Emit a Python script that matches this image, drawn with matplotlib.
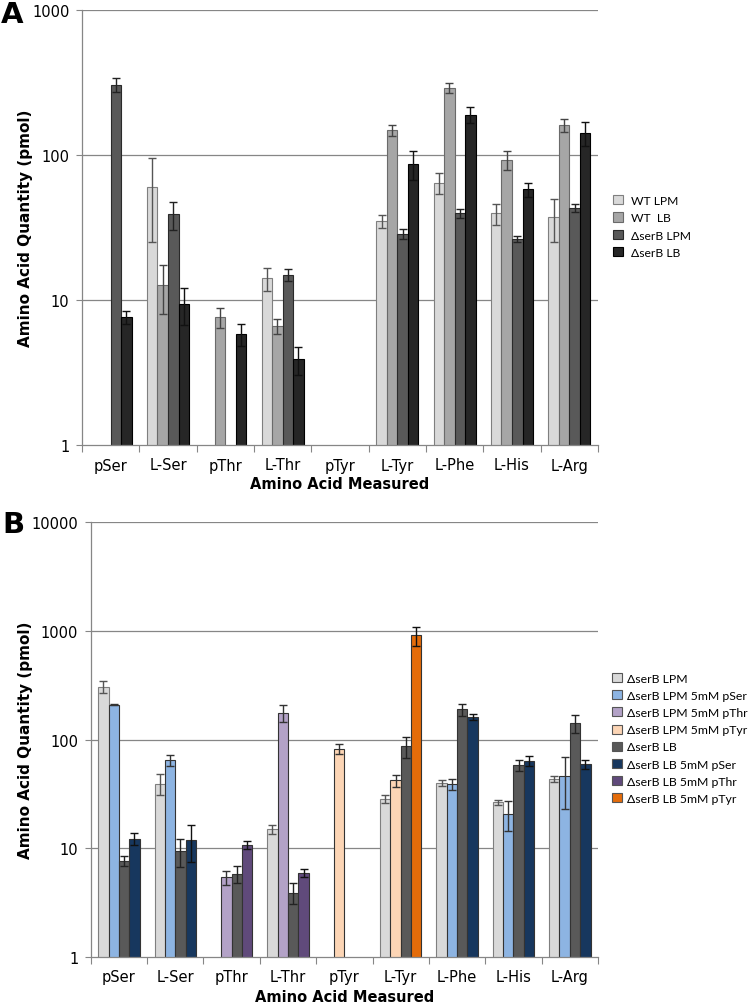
import numpy as np
import matplotlib
matplotlib.use("Agg")
import matplotlib.pyplot as plt
from matplotlib.patches import Patch
from matplotlib.ticker import FixedLocator, FixedFormatter, NullLocator

nan = np.nan
categories = ['pSer', 'L-Ser', 'pThr', 'L-Thr', 'pTyr', 'L-Tyr', 'L-Phe', 'L-His', 'L-Arg']

# ---- Panel A ----
a_labels = ['WT LPM', 'WT  LB', '\u0394serB LPM', '\u0394serB LB']
wt_lpm = [nan, 60.0, nan, 14.1, nan, 35.2, 64.8, 39.6, 37.6]
wt_lpm_err = [nan, 35.0, nan, 2.6, nan, 3.6, 10.7, 6.8, 12.4]
wt_lb = [nan, 12.8, 7.6, 6.6, nan, 149.0, 291.0, 93.0, 162.0]
wt_lb_err = [nan, 4.8, 1.2, 0.8, nan, 13.0, 24.0, 13.7, 17.0]
serb_lpm = [307.0, 39.2, nan, 15.0, nan, 28.6, 39.6, 26.4, 43.5]
serb_lpm_err = [36.0, 8.5, nan, 1.5, nan, 2.4, 2.6, 1.3, 2.7]
serb_lb = [7.6, 9.4, 5.8, 3.9, nan, 87.0, 190.0, 58.0, 142.0]
serb_lb_err = [0.8, 2.7, 1.0, 0.86, nan, 19.5, 24.5, 6.7, 27.0]

# ---- Panel B ----
b_labels = ['\u0394serB LPM', '\u0394serB LPM 5mM pSer', '\u0394serB LPM 5mM pThr',
            '\u0394serB LPM 5mM pTyr', '\u0394serB LB', '\u0394serB LB 5mM pSer',
            '\u0394serB LB 5mM pThr', '\u0394serB LB 5mM pTyr']
supplement = ['pSer', 'pSer', 'pThr', 'pThr', 'pTyr', 'pTyr', 'pSer', 'pSer', 'pSer']
lpm_supp = [209.0, 65.0, 5.4, 175.0, 82.0, 42.0, 38.9, 20.8, 46.1]
lpm_supp_err = [2.0, 7.8, 0.8, 31.0, 8.5, 5.4, 4.4, 6.3, 23.0]
lb_supp = [12.2, 11.9, 10.8, 5.96, nan, 911.0, 161.0, 63.8, 59.5]
lb_supp_err = [1.5, 4.4, 0.9, 0.5, nan, 178.0, 11.0, 7.0, 5.6]

a_colors = ['#d9d9d9', '#a6a6a6', '#595959', '#262626']
a_edges = ['#7f7f7f', '#6a6a6a', '#2a2a2a', '#000000']
a_ecol = ['#555555', '#444444', '#222222', '#111111']

lpm_col = '#d9d9d9'
lb_col = '#595959'
lpm_supp_col = {'pSer': '#8db4e2', 'pThr': '#b3a2c7', 'pTyr': '#fcd5b5'}
lb_supp_col = {'pSer': '#17375e', 'pThr': '#604a7b', 'pTyr': '#e46c0a'}
b_colors = [lpm_col, lpm_supp_col['pSer'], lpm_supp_col['pThr'], lpm_supp_col['pTyr'],
            lb_col, lb_supp_col['pSer'], lb_supp_col['pThr'], lb_supp_col['pTyr']]

grid_col = '#868686'
TICKFONT = 10.5
LABFONT = 10.5

fig = plt.figure(figsize=(7.49, 10.03), dpi=100)
W, H = 749.0, 1003.0


def ax_from_px(x0, x1, ytop, ybot):
    return fig.add_axes([x0 / W, 1 - ybot / H, (x1 - x0) / W, (ybot - ytop) / H])


def style_axes(ax, ymax):
    ax.set_yscale('log')
    ax.set_ylim(1, ymax)
    ax.set_xlim(-0.5, len(categories) - 0.5)
    decades = [10 ** k for k in range(int(round(np.log10(ymax))) + 1)]
    ax.yaxis.set_major_locator(FixedLocator(decades))
    ax.yaxis.set_major_formatter(FixedFormatter([str(d) for d in decades]))
    ax.yaxis.set_minor_locator(NullLocator())
    for d in decades[1:]:
        ax.axhline(d, color=grid_col, lw=0.9, zorder=0)
    ax.set_xticks(range(len(categories)))
    ax.set_xticklabels(categories)
    ax.set_xticks(np.arange(-0.5, len(categories)), minor=True)
    ax.tick_params(axis='x', which='major', length=0, pad=9, labelsize=TICKFONT)
    ax.tick_params(axis='x', which='minor', length=5, width=0.8, color=grid_col, direction='out')
    ax.tick_params(axis='y', which='major', length=4, width=0.8, color=grid_col,
                   labelsize=TICKFONT, pad=5)
    for s in ['top', 'right']:
        ax.spines[s].set_visible(False)
    for s in ['left', 'bottom']:
        ax.spines[s].set_color(grid_col)
        ax.spines[s].set_linewidth(0.9)
    ax.set_xlabel('Amino Acid Measured', fontsize=LABFONT, fontweight='bold')
    ax.set_ylabel('Amino Acid Quantity (pmol)', fontsize=11, fontweight='bold')


bw = 0.184
offsets = (np.arange(4) - 1.5) * bw
x = np.arange(len(categories))

# Panel A
axA = ax_from_px(82, 598, 11.3, 446)
style_axes(axA, 1000)
a_vals = [wt_lpm, wt_lb, serb_lpm, serb_lb]
a_errs = [wt_lpm_err, wt_lb_err, serb_lpm_err, serb_lb_err]
for i in range(4):
    axA.bar(x + offsets[i], a_vals[i], width=bw, color=a_colors[i], edgecolor=a_edges[i],
            linewidth=0.8, zorder=2)
    axA.errorbar(x + offsets[i], a_vals[i], yerr=a_errs[i], fmt='none', ecolor=a_ecol[i],
                 elinewidth=1.0, capsize=2.6, capthick=1.0, zorder=3)
axA.xaxis.set_label_coords(0.5, -0.072)
axA.yaxis.set_label_coords(-0.095, 0.5)
hA = [Patch(facecolor=a_colors[i], edgecolor=a_edges[i], linewidth=0.8) for i in range(4)]
fig.legend(hA, a_labels, loc='upper left', bbox_to_anchor=(613 / W, 1 - 196 / H),
           frameon=False, prop={'family': 'Lato', 'size': 8.7}, handlelength=0.8,
           handleheight=0.8, handletextpad=0.65, labelspacing=0.52, borderpad=0,
           borderaxespad=0)

# Panel B
axB = ax_from_px(90.7, 598, 523.3, 957.8)
style_axes(axB, 10000)
b_vals = [serb_lpm, lpm_supp, serb_lb, lb_supp]
b_errs = [serb_lpm_err, lpm_supp_err, serb_lb_err, lb_supp_err]
b_slot_colors = [
    [lpm_col] * len(categories),
    [lpm_supp_col[s] for s in supplement],
    [lb_col] * len(categories),
    [lb_supp_col[s] for s in supplement],
]
b_ecol = ['#555555', '#333333', '#222222', '#111111']
for i in range(4):
    edges = ['#7f7f7f' if i == 0 else '#333333'] * len(categories)
    axB.bar(x + offsets[i], b_vals[i], width=bw, color=b_slot_colors[i], edgecolor=edges,
            linewidth=0.8, zorder=2)
    axB.errorbar(x + offsets[i], b_vals[i], yerr=b_errs[i], fmt='none', ecolor=b_ecol[i],
                 elinewidth=1.0, capsize=2.6, capthick=1.0, zorder=3)
axB.xaxis.set_label_coords(0.5, -0.074)
axB.yaxis.set_label_coords(-0.113, 0.5)
hB = [Patch(facecolor=c, edgecolor='#555555', linewidth=0.8) for c in b_colors]
fig.legend(hB, b_labels, loc='upper left', bbox_to_anchor=(612 / W, 1 - 674 / H),
           frameon=False, prop={'family': 'Lato', 'size': 8.8}, handlelength=0.8,
           handleheight=0.75, handletextpad=0.4, labelspacing=0.5, borderpad=0,
           borderaxespad=0)

fig.text(1 / W, 1 - 1 / H, 'A', fontsize=21, fontweight='bold', ha='left', va='top')
fig.text(2 / W, 1 - 511 / H, 'B', fontsize=21, fontweight='bold', ha='left', va='top')

fig.savefig('out.png', dpi=100)
